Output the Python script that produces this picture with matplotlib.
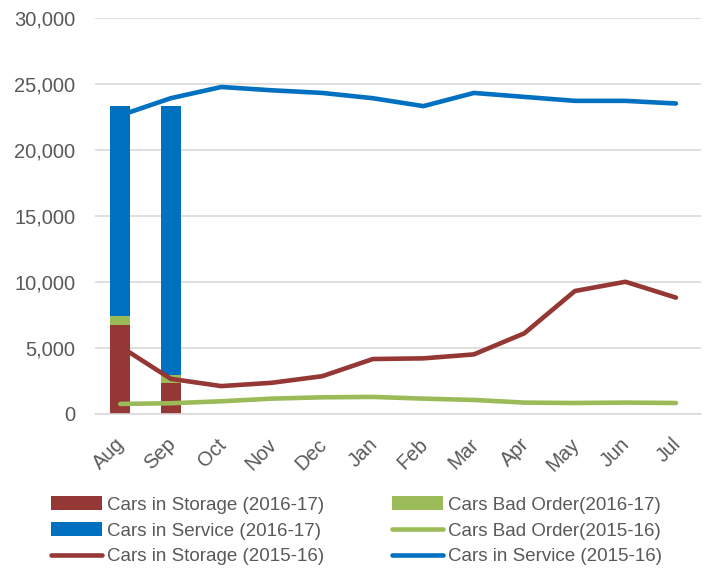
import matplotlib.pyplot as plt
import numpy as np
from matplotlib.transforms import ScaledTranslation
from matplotlib.ticker import FuncFormatter

plt.rcParams['font.family'] = ['Liberation Sans', 'DejaVu Sans']

months = ['Aug', 'Sep', 'Oct', 'Nov', 'Dec', 'Jan', 'Feb', 'Mar', 'Apr', 'May', 'Jun', 'Jul']

# 2016-17 (only two months reported so far) - stacked columns
storage_1617 = [6750, 2350]
bad_order_1617 = [680, 600]
service_1617 = [15900, 20380]

# 2015-16 full year - lines
storage_1516 = [5100, 2650, 2100, 2350, 2850, 4150, 4200, 4500, 6100, 9300, 10000, 8800]
bad_order_1516 = [750, 800, 950, 1150, 1250, 1280, 1150, 1050, 850, 820, 850, 820]
service_1516 = [22600, 23900, 24750, 24500, 24300, 23900, 23300, 24300, 24000, 23700, 23700, 23500]

red = '#953735'
green = '#9BBB59'
blue = '#0070C0'
grey_txt = '#595959'

fig = plt.figure(figsize=(7.09, 5.70), dpi=100)
ax = fig.add_axes([0.134, 0.274, 0.855, 0.695])

x = np.arange(len(months))
xb = x[:len(storage_1617)]
w = 0.4
b1 = ax.bar(xb, storage_1617, w, color=red, label='Cars in Storage (2016-17)', zorder=2)
bot = np.array(storage_1617)
b2 = ax.bar(xb, bad_order_1617, w, bottom=bot, color=green, label='Cars Bad Order(2016-17)', zorder=2)
bot = bot + np.array(bad_order_1617)
b3 = ax.bar(xb, service_1617, w, bottom=bot, color=blue, label='Cars in Service (2016-17)', zorder=2)

l1, = ax.plot(x, storage_1516, color=red, lw=3.3, solid_capstyle='round', label='Cars in Storage (2015-16)', zorder=3)
l2, = ax.plot(x, bad_order_1516, color=green, lw=3.3, solid_capstyle='round', label='Cars Bad Order(2015-16)', zorder=3)
l3, = ax.plot(x, service_1516, color=blue, lw=3.3, solid_capstyle='round', label='Cars in Service (2015-16)', zorder=3)

ax.set_xlim(-0.5, len(months) - 0.5)
ax.set_ylim(0, 30000)
ax.set_yticks(range(0, 30001, 5000))
ax.yaxis.set_major_formatter(FuncFormatter(lambda v, p: f'{int(v):,}'))
ax.set_xticks(x)
ax.set_xticklabels(months, rotation=45, ha='right', rotation_mode='anchor')

ax.grid(axis='y', color='#D9D9D9', lw=1.2, zorder=0)
for s in ['top', 'right', 'left']:
    ax.spines[s].set_visible(False)
ax.spines['bottom'].set_color('#D9D9D9')
ax.spines['bottom'].set_linewidth(1.2)
ax.tick_params(axis='both', length=0, labelsize=14.5, colors=grey_txt)
ax.tick_params(axis='y', pad=14)
ax.tick_params(axis='x', pad=15)

# nudge month labels a little to the left
shift = ScaledTranslation(-5 / 100, 0, fig.dpi_scale_trans)
for lab in ax.get_xticklabels():
    lab.set_transform(lab.get_transform() + shift)

handles = [b1, b3, l1, b2, l2, l3]
leg = fig.legend(handles, [h.get_label() for h in handles], ncol=2, loc='lower left',
                 bbox_to_anchor=(0.048, -0.021), frameon=False, fontsize=13.5,
                 handlelength=2.75, handletextpad=0.25, columnspacing=3.6,
                 labelspacing=0.44, labelcolor=grey_txt)
for h in leg.legend_handles[:2] + [leg.legend_handles[3]]:
    h.set_height(10)

fig.savefig('out.png', dpi=100)
